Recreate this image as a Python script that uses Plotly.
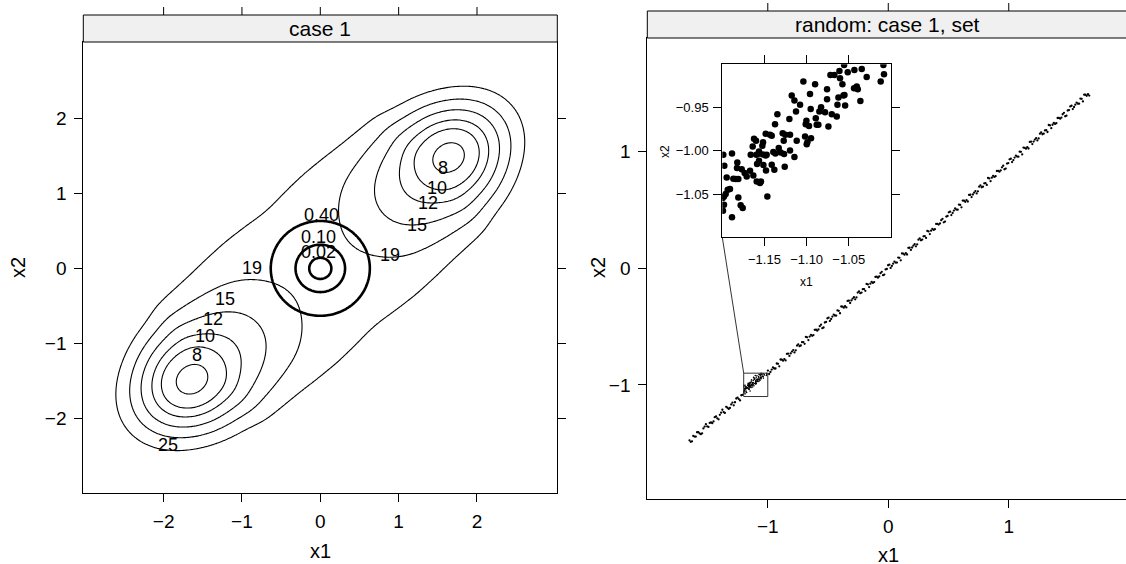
import numpy as np
import plotly.graph_objects as go

W, H = 1126, 564
FONT = "Liberation Sans, Arial, Helvetica, sans-serif"

# ---------------- data: left panel (contour plot of the objective) ----------------
LEVELS = [8, 10, 12, 15, 19, 25]
CIRCLE_LEVELS = [0.02, 0.10, 0.40]
WELL = (1.65, 1.49)            # location of the upper-right minimum (other one is -WELL)
F_MIN = 7.0                    # value at the minima
# rise of the valley floor with distance d from a minimum towards the saddle
FLOOR_D = [0.0, 0.28, 0.50, 0.78, 1.15, 1.72]
FLOOR_G = [0.0, 1.0, 3.0, 5.2, 8.0, 12.0, 13.6]
OUT_CURV = 16.0                # curvature beyond the minima (outward direction)
# transverse curvature across the valley, as a function of |u|
TRANS_U = [0.0, 0.6, 0.9, 1.3, 1.85, 2.22, 3.5]
TRANS_H = [4.1, 5.6, 7.5, 10.5, 15.0, 20.0, 26.0]
SMOOTH_SIGMA = 0.10

LABEL_TEXT = ["8", "10", "12", "15", "19", "0.40", "0.10", "0.02",
              "19", "15", "12", "10", "8", "25"]
LABEL_X = [1.570, 1.486, 1.378, 1.230, 0.890, 0.018, -0.026, -0.026,
           -0.876, -1.216, -1.366, -1.472, -1.578, -1.940]
LABEL_Y = [1.333, 1.067, 0.867, 0.577, 0.177, 0.711, 0.413, 0.213,
           0.000, -0.413, -0.680, -0.899, -1.156, -2.356]

LEFT_TICKS = [-2, -1, 0, 1, 2]
RIGHT_TICKS = [-1, 0, 1]
INSET_XTICKS = [-1.15, -1.10, -1.05]
INSET_XTEXT = ["\u22121.15", "\u22121.10", "\u22121.05"]
INSET_YTICKS = [-1.05, -1.00, -0.95]
INSET_YTEXT = ["\u22121.05", "\u22121.00", "\u22120.95"]
ZOOM_BOX_X = [-1.2, -1.0]
ZOOM_BOX_Y = [-1.1, -0.9]

# ---------------- data: right panel (random set along the valley) ----------------
BAND_X = [-1.650, -1.629, -1.608, -1.587, -1.566, -1.545, -1.524, -1.503, -1.482, -1.461,
          -1.440, -1.419, -1.398, -1.377, -1.356, -1.335, -1.314, -1.293, -1.272, -1.251,
          -1.230, -1.209,
          -0.999, -0.978, -0.957, -0.936, -0.915, -0.894, -0.873, -0.852, -0.831, -0.810,
          -0.789, -0.768, -0.747, -0.726, -0.705, -0.684, -0.663, -0.642, -0.621, -0.600,
          -0.579, -0.558, -0.537, -0.516, -0.495, -0.474, -0.453, -0.432, -0.411, -0.390,
          -0.369, -0.348, -0.327, -0.306, -0.285, -0.264, -0.243, -0.222, -0.201, -0.180,
          -0.159, -0.138, -0.117, -0.096, -0.075, -0.054, -0.033, -0.012, 0.009, 0.030,
          0.051, 0.072, 0.093, 0.114, 0.135, 0.156, 0.177, 0.198, 0.219, 0.240,
          0.261, 0.282, 0.303, 0.324, 0.345, 0.366, 0.387, 0.408, 0.429, 0.450,
          0.471, 0.492, 0.513, 0.534, 0.555, 0.576, 0.597, 0.618, 0.639, 0.660,
          0.681, 0.702, 0.723, 0.744, 0.765, 0.786, 0.807, 0.828, 0.849, 0.870,
          0.891, 0.912, 0.933, 0.954, 0.975, 0.996, 1.017, 1.038, 1.059, 1.080,
          1.101, 1.122, 1.143, 1.164, 1.185, 1.206, 1.227, 1.248, 1.269, 1.290,
          1.311, 1.332, 1.353, 1.374, 1.395, 1.416, 1.437, 1.458, 1.479, 1.500,
          1.521, 1.542, 1.563, 1.584, 1.605, 1.626, 1.647, 1.668]
BAND_Y = [-1.475, -1.484, -1.443, -1.406, -1.416, -1.415, -1.357, -1.355, -1.326, -1.328,
          -1.277, -1.287, -1.257, -1.213, -1.240, -1.196, -1.198, -1.152, -1.149, -1.109,
          -1.133, -1.085,
          -0.878, -0.889, -0.851, -0.860, -0.820, -0.783, -0.793, -0.791, -0.733, -0.731,
          -0.702, -0.704, -0.653, -0.663, -0.634, -0.590, -0.617, -0.572, -0.574, -0.528,
          -0.525, -0.485, -0.509, -0.461, -0.425, -0.436, -0.398, -0.407, -0.366, -0.329,
          -0.339, -0.337, -0.279, -0.277, -0.249, -0.251, -0.200, -0.210, -0.180, -0.136,
          -0.163, -0.118, -0.120, -0.074, -0.072, -0.032, -0.056, -0.008, 0.029, 0.018,
          0.056, 0.047, 0.088, 0.125, 0.115, 0.116, 0.174, 0.176, 0.205, 0.203,
          0.254, 0.244, 0.274, 0.318, 0.291, 0.335, 0.333, 0.379, 0.382, 0.422,
          0.398, 0.446, 0.483, 0.472, 0.510, 0.500, 0.541, 0.578, 0.568, 0.570,
          0.628, 0.630, 0.659, 0.657, 0.708, 0.697, 0.727, 0.771, 0.744, 0.789,
          0.787, 0.833, 0.836, 0.876, 0.852, 0.899, 0.936, 0.925, 0.963, 0.954,
          0.995, 1.032, 1.022, 1.024, 1.082, 1.083, 1.112, 1.110, 1.161, 1.151,
          1.181, 1.225, 1.198, 1.243, 1.241, 1.286, 1.289, 1.329, 1.305, 1.353,
          1.390, 1.379, 1.417, 1.408, 1.449, 1.485, 1.475, 1.477]

BAND2_X = [-1.6395, -1.6185, -1.5975, -1.5765, -1.5555, -1.5345, -1.5135, -1.4925, -1.4715, -1.4505,
           -1.4295, -1.4085, -1.3875, -1.3665, -1.3455, -1.3245, -1.3035, -1.2825, -1.2615, -1.2405,
           -1.2195,
           -0.9885, -0.9675, -0.9465, -0.9255, -0.9045, -0.8835, -0.8625, -0.8415, -0.8205, -0.7995,
           -0.7785, -0.7575, -0.7365, -0.7155, -0.6945, -0.6735, -0.6525, -0.6315, -0.6105, -0.5895,
           -0.5685, -0.5475, -0.5265, -0.5055, -0.4845, -0.4635, -0.4425, -0.4215, -0.4005, -0.3795,
           -0.3585, -0.3375, -0.3165, -0.2955, -0.2745, -0.2535, -0.2325, -0.2115, -0.1905, -0.1695,
           -0.1485, -0.1275, -0.1065, -0.0855, -0.0645, -0.0435, -0.0225, -0.0015, 0.0195, 0.0405,
           0.0615, 0.0825, 0.1035, 0.1245, 0.1455, 0.1665, 0.1875, 0.2085, 0.2295, 0.2505,
           0.2715, 0.2925, 0.3135, 0.3345, 0.3555, 0.3765, 0.3975, 0.4185, 0.4395, 0.4605,
           0.4815, 0.5025, 0.5235, 0.5445, 0.5655, 0.5865, 0.6075, 0.6285, 0.6495, 0.6705,
           0.6915, 0.7125, 0.7335, 0.7545, 0.7755, 0.7965, 0.8175, 0.8385, 0.8595, 0.8805,
           0.9015, 0.9225, 0.9435, 0.9645, 0.9855, 1.0065, 1.0275, 1.0485, 1.0695, 1.0905,
           1.1115, 1.1325, 1.1535, 1.1745, 1.1955, 1.2165, 1.2375, 1.2585, 1.2795, 1.3005,
           1.3215, 1.3425, 1.3635, 1.3845, 1.4055, 1.4265, 1.4475, 1.4685, 1.4895, 1.5105,
           1.5315, 1.5525, 1.5735, 1.5945, 1.6155, 1.6365, 1.6575]
BAND2_Y = [-1.488, -1.437, -1.443, -1.405, -1.422, -1.373, -1.337, -1.360, -1.322, -1.313,
           -1.271, -1.295, -1.238, -1.233, -1.188, -1.206, -1.168, -1.175, -1.117, -1.122,
           -1.089,
           -0.907, -0.869, -0.860, -0.817, -0.841, -0.784, -0.779, -0.734, -0.752, -0.715,
           -0.722, -0.664, -0.669, -0.635, -0.649, -0.593, -0.587, -0.580, -0.529, -0.536,
           -0.498, -0.515, -0.466, -0.430, -0.453, -0.415, -0.406, -0.363, -0.387, -0.331,
           -0.326, -0.281, -0.299, -0.261, -0.268, -0.210, -0.215, -0.181, -0.195, -0.140,
           -0.134, -0.127, -0.076, -0.082, -0.044, -0.061, -0.012, 0.024, 0.001, 0.038,
           0.047, 0.090, 0.066, 0.123, 0.128, 0.173, 0.155, 0.193, 0.186, 0.243,
           0.238, 0.272, 0.258, 0.314, 0.320, 0.327, 0.378, 0.372, 0.410, 0.392,
           0.441, 0.477, 0.454, 0.492, 0.501, 0.544, 0.520, 0.577, 0.582, 0.626,
           0.608, 0.646, 0.639, 0.697, 0.692, 0.726, 0.712, 0.768, 0.774, 0.780,
           0.831, 0.825, 0.863, 0.846, 0.895, 0.931, 0.908, 0.946, 0.955, 0.997,
           0.973, 1.030, 1.035, 1.080, 1.062, 1.100, 1.093, 1.151, 1.146, 1.179,
           1.165, 1.221, 1.227, 1.234, 1.285, 1.279, 1.317, 1.300, 1.349, 1.384,
           1.361, 1.399, 1.408, 1.451, 1.427, 1.484, 1.489]

INSET_X = [-1.0556, -1.0090, -1.0611, -1.0513, -1.0434, -1.0347, -1.0718, -1.0671, -1.0604, -1.0288,
           -1.0083, -1.1039, -1.0900, -1.0576, -1.0122, -1.0438, -1.0406, -1.0758, -1.0960, -1.0394,
           -1.1177, -1.0564, -1.0623, -1.0552, -1.0758, -1.1145, -1.0363, -1.1078, -1.0635, -1.0544,
           -1.0952, -1.0829, -1.1347, -1.1126, -1.0849, -1.0782, -1.0702, -1.0643, -1.1205, -1.1003,
           -1.0892, -1.1011, -1.0881, -1.0742, -1.1375, -1.1486, -1.1434, -1.1414, -1.0972, -1.0861,
           -1.1284, -1.1252, -1.1197, -1.1019, -1.1624, -1.1600, -1.1517, -1.1118, -1.0948, -1.0991,
           -1.0999, -1.1272, -1.1640, -1.1525, -1.1565, -1.1331, -1.1308, -1.1197, -1.1569, -1.1517,
           -1.1486, -1.1596, -1.1145, -1.1268, -1.1371, -1.1395, -1.1988, -1.1885, -1.1663, -1.1474,
           -1.1976, -1.1822, -1.1826, -1.1770, -1.1588, -1.1565, -1.1513, -1.1414, -1.1260, -1.1671,
           -1.1632, -1.1735, -1.1711, -1.1869, -1.1841, -1.1810, -1.1948, -1.1482, -1.1383, -1.1592,
           -1.1553, -1.1541, -1.1936, -1.1909, -1.1960, -1.1980, -1.1996, -1.1810, -1.1466, -1.1980,
           -1.1992, -1.1782, -1.1758, -1.1885]
INSET_Y = [-0.9008, -0.9008, -0.9077, -0.9093, -0.9066, -0.9054, -0.9123, -0.9123, -0.9162, -0.9146,
           -0.9116, -0.9200, -0.9231, -0.9231, -0.9200, -0.9277, -0.9258, -0.9289, -0.9343, -0.9289,
           -0.9362, -0.9362, -0.9385, -0.9354, -0.9404, -0.9419, -0.9423, -0.9469, -0.9469, -0.9477,
           -0.9516, -0.9496, -0.9577, -0.9546, -0.9546, -0.9554, -0.9577, -0.9604, -0.9631, -0.9654,
           -0.9623, -0.9692, -0.9700, -0.9719, -0.9692, -0.9804, -0.9815, -0.9827, -0.9712, -0.9700,
           -0.9796, -0.9815, -0.9815, -0.9835, -0.9862, -0.9885, -0.9900, -0.9885, -0.9854, -0.9900,
           -0.9923, -0.9885, -0.9950, -0.9943, -1.0008, -0.9969, -1.0019, -0.9996, -1.0035, -1.0042,
           -1.0054, -1.0046, -1.0073, -1.0038, -1.0031, -1.0015, -1.0046, -1.0031, -1.0046, -1.0046,
           -1.0173, -1.0135, -1.0200, -1.0212, -1.0154, -1.0116, -1.0165, -1.0161, -1.0185, -1.0231,
           -1.0285, -1.0258, -1.0296, -1.0323, -1.0327, -1.0327, -1.0308, -1.0227, -1.0219, -1.0354,
           -1.0373, -1.0354, -1.0450, -1.0442, -1.0500, -1.0527, -1.0546, -1.0539, -1.0527, -1.0623,
           -1.0692, -1.0630, -1.0661, -1.0769]

# ---------------- layout geometry (pixels -> paper) ----------------
def px(x):
    return x / W

def py(y):
    return 1 - y / H

LEFT_XD = [px(83.3), px(557.3)]
LEFT_YD = [py(493.3), py(42)]
LEFT_XR = [-3.025, 3.025]
LEFT_YR = [-3.0, 3.02]
RIGHT_XD = [px(647.3), 1.0]
RIGHT_YD = [py(499.3), py(38)]
RIGHT_XR = [-2.0, 1.973]
RIGHT_YR = [-1.98, 1.97]
INSET_XD = [px(722.3), px(891)]
INSET_YD = [py(237.3), py(64.3)]


def pchip(xk, yk, x, s0, s1):
    xk = np.asarray(xk, float)
    yk = np.asarray(yk, float)
    h = np.diff(xk)
    delta = np.diff(yk) / h
    m = np.zeros_like(yk)
    for k in range(1, len(xk) - 1):
        if delta[k - 1] * delta[k] > 0:
            w1 = 2 * h[k] + h[k - 1]
            w2 = h[k] + 2 * h[k - 1]
            m[k] = (w1 + w2) / (w1 / delta[k - 1] + w2 / delta[k])
    m[0], m[-1] = s0, s1
    x = np.asarray(x, float)
    idx = np.clip(np.searchsorted(xk, x) - 1, 0, len(h) - 1)
    t = (x - xk[idx]) / h[idx]
    t2, t3 = t * t, t * t * t
    return ((2 * t3 - 3 * t2 + 1) * yk[idx] + (t3 - 2 * t2 + t) * h[idx] * m[idx]
            + (-2 * t3 + 3 * t2) * yk[idx + 1] + (t3 - t2) * h[idx] * m[idx + 1])


def gauss_smooth(z, sigma_cells):
    r = int(3 * sigma_cells)
    k = np.exp(-0.5 * (np.arange(-r, r + 1) / sigma_cells) ** 2)
    k /= k.sum()
    zp = np.pad(z, r, mode="edge")
    zp = np.apply_along_axis(lambda a: np.convolve(a, k, mode="same"), 1, zp)
    zp = np.apply_along_axis(lambda a: np.convolve(a, k, mode="same"), 0, zp)
    return zp[r:-r, r:-r]


# objective surface on a grid
U0 = float(np.hypot(*WELL))
MH = np.array(WELL) / U0
xg = np.linspace(LEFT_XR[0], LEFT_XR[1], 331)
yg = np.linspace(LEFT_YR[0], LEFT_YR[1], 331)
X, Y = np.meshgrid(xg, yg)
U = MH[0] * X + MH[1] * Y
V = -MH[1] * X + MH[0] * Y
AU = np.abs(U)
D = np.clip(U0 - AU, 0, U0)
G = np.where(AU <= U0, pchip(FLOOR_D + [U0], FLOOR_G, D, 0.0, 0.0), OUT_CURV * (AU - U0) ** 2)
HT = pchip(TRANS_U, TRANS_H, np.clip(AU, 0, TRANS_U[-1]), 0.0, 0.0)
Z = F_MIN + G + HT * V ** 2
Z = gauss_smooth(Z, SMOOTH_SIGMA / (xg[1] - xg[0]))
R2 = X ** 2 + Y ** 2

fig = go.Figure()

for lev in LEVELS:
    fig.add_trace(go.Contour(
        x=xg, y=yg, z=Z, autocontour=False,
        contours=dict(start=lev, end=lev, size=1, coloring="none", showlabels=False),
        line=dict(color="black", width=1.1, smoothing=1.0),
        showscale=False, hoverinfo="skip", xaxis="x", yaxis="y"))
for lev in CIRCLE_LEVELS:
    fig.add_trace(go.Contour(
        x=xg, y=yg, z=R2, autocontour=False,
        contours=dict(start=lev, end=lev, size=1, coloring="none", showlabels=False),
        line=dict(color="black", width=2.6, smoothing=1.0),
        showscale=False, hoverinfo="skip", xaxis="x", yaxis="y"))

# right panel: band of random points + zoomed region
for bx, by in [(BAND_X, BAND_Y), (BAND2_X, BAND2_Y)]:
    fig.add_trace(go.Scatter(x=bx, y=by, mode="markers",
                             marker=dict(size=2.3, color="black"), hoverinfo="skip",
                             xaxis="x2", yaxis="y2", showlegend=False))
fig.add_trace(go.Scatter(x=INSET_X, y=INSET_Y, mode="markers",
                         marker=dict(size=1.6, color="black"), hoverinfo="skip",
                         xaxis="x2", yaxis="y2", showlegend=False))

# connector from inset corner to zoom box corner (inset corner converted to main data coords)
cx = RIGHT_XR[0] + (INSET_XD[0] - RIGHT_XD[0]) / (RIGHT_XD[1] - RIGHT_XD[0]) * (RIGHT_XR[1] - RIGHT_XR[0])
cy = RIGHT_YR[0] + (INSET_YD[0] - RIGHT_YD[0]) / (RIGHT_YD[1] - RIGHT_YD[0]) * (RIGHT_YR[1] - RIGHT_YR[0])
fig.add_trace(go.Scatter(x=[ZOOM_BOX_X[0], cx], y=[ZOOM_BOX_Y[1], cy], mode="lines",
                         line=dict(color="#333333", width=1), hoverinfo="skip",
                         xaxis="x2", yaxis="y2", showlegend=False))

# inset
fig.add_trace(go.Scatter(x=INSET_X, y=INSET_Y, mode="markers",
                         marker=dict(size=6.5, color="black"), hoverinfo="skip",
                         xaxis="x3", yaxis="y3", showlegend=False))

axis_common = dict(showgrid=False, zeroline=False, showline=True, linecolor="black", linewidth=1,
                   ticks="outside", tickcolor="black", tickwidth=1,
                   tickfont=dict(family=FONT, size=19, color="black"))
inset_font = dict(family=FONT, size=13, color="black")

fig.update_layout(
    width=W, height=H, autosize=False,
    margin=dict(l=0, r=0, t=0, b=0),
    paper_bgcolor="white", plot_bgcolor="white",
    showlegend=False,
    font=dict(family=FONT, color="black"),
    xaxis=dict(domain=LEFT_XD, range=LEFT_XR, anchor="y", tickvals=LEFT_TICKS, ticklen=8,
               mirror=True, ticklabelstandoff=3, **axis_common),
    yaxis=dict(domain=LEFT_YD, range=LEFT_YR, anchor="x", tickvals=LEFT_TICKS, ticklen=8,
               mirror="ticks", ticklabelstandoff=4, **axis_common),
    xaxis2=dict(domain=RIGHT_XD, range=RIGHT_XR, anchor="y2", tickvals=RIGHT_TICKS, ticklen=8,
                mirror=True, ticklabelstandoff=2, **axis_common),
    yaxis2=dict(domain=RIGHT_YD, range=RIGHT_YR, anchor="x2", tickvals=RIGHT_TICKS, ticklen=8,
                mirror=False, ticklabelstandoff=4, **axis_common),
    xaxis3=dict(domain=INSET_XD, range=[-1.2, -1.0], anchor="y3", tickvals=INSET_XTICKS,
                ticktext=INSET_XTEXT, ticklen=8, mirror="ticks", ticklabelstandoff=2,
                **{**axis_common, "tickfont": inset_font}),
    yaxis3=dict(domain=INSET_YD, range=[-1.1, -0.9], anchor="x3", tickvals=INSET_YTICKS,
                ticktext=INSET_YTEXT, ticklen=8, mirror="ticks", ticklabelstandoff=2,
                **{**axis_common, "tickfont": inset_font}),
)

shapes = []
# strips
shapes.append(dict(type="rect", xref="paper", yref="paper", x0=LEFT_XD[0], x1=LEFT_XD[1],
                   y0=py(42), y1=py(15), fillcolor="#f0f0f0", line=dict(color="black", width=1),
                   layer="above"))
shapes.append(dict(type="rect", xref="paper", yref="paper", x0=RIGHT_XD[0], x1=1.01,
                   y0=py(38), y1=py(11), fillcolor="#f0f0f0", line=dict(color="black", width=1),
                   layer="above"))
# top tick marks above the strips
for t in LEFT_TICKS:
    shapes.append(dict(type="line", xref="x", yref="paper", x0=t, x1=t, y0=py(15), y1=py(7),
                       line=dict(color="black", width=1)))
for t in RIGHT_TICKS:
    shapes.append(dict(type="line", xref="x2", yref="paper", x0=t, x1=t, y0=py(11), y1=py(3),
                       line=dict(color="black", width=1)))
# zoom box
shapes.append(dict(type="rect", xref="x2", yref="y2", x0=ZOOM_BOX_X[0], x1=ZOOM_BOX_X[1],
                   y0=ZOOM_BOX_Y[0], y1=ZOOM_BOX_Y[1], line=dict(color="#333333", width=1)))
fig.update_layout(shapes=shapes)

ann = []
for txt, lx, ly in zip(LABEL_TEXT, LABEL_X, LABEL_Y):
    ann.append(dict(x=lx, y=ly, xref="x", yref="y", text=txt, showarrow=False,
                    font=dict(family=FONT, size=18, color="black"),
                    xanchor="center", yanchor="middle"))
# strip texts
ann.append(dict(x=(LEFT_XD[0] + LEFT_XD[1]) / 2, y=py(28.5), xref="paper", yref="paper",
                text="case 1", showarrow=False, font=dict(family=FONT, size=21, color="black"),
                xanchor="center", yanchor="middle"))
ann.append(dict(x=px(887.5), y=py(24.5), xref="paper", yref="paper",
                text="random: case 1, set", showarrow=False,
                font=dict(family=FONT, size=21, color="black"), xanchor="center", yanchor="middle"))
# axis titles
for txt, xx, yy, ang, sz in [("x1", 320, 551, 0, 20), ("x2", 18, 268, -90, 20),
                             ("x1", 888, 555, 0, 20), ("x2", 598, 268, -90, 20),
                             ("x1", 806, 282, 0, 12), ("x2", 665, 152, -90, 12)]:
    ann.append(dict(x=px(xx), y=py(yy), xref="paper", yref="paper", text=txt, showarrow=False,
                    textangle=ang, font=dict(family=FONT, size=sz, color="black"),
                    xanchor="center", yanchor="middle"))
fig.update_layout(annotations=ann)

fig.write_html("out.html", config={"displayModeBar": False},
               post_script="document.body.style.margin='0px';document.body.style.overflow='hidden';")
